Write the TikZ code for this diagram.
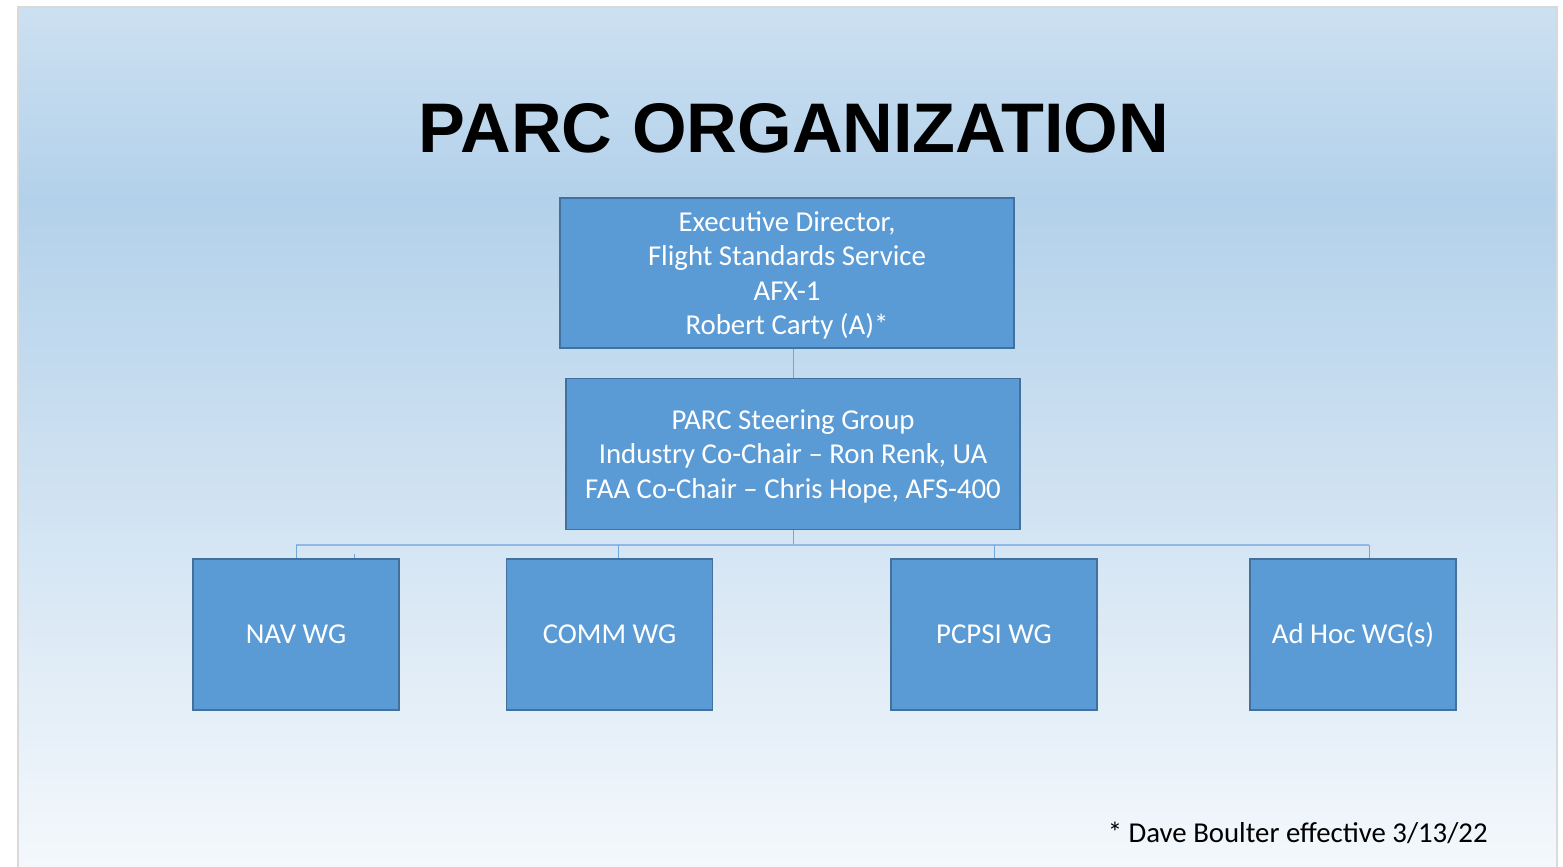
\documentclass[tikz,border=0pt]{standalone}
\usepackage{fontspec}
\setmainfont{Carlito}
\newfontfamily\titlefont{Liberation Sans}
\usepackage{xcolor}
\usetikzlibrary{positioning}

\definecolor{boxfill}{HTML}{5B9BD5}
\definecolor{boxline}{HTML}{41719C}
\definecolor{linkblue}{HTML}{6FA6DC}
\definecolor{busblue}{HTML}{8FB8E4}
\definecolor{slidetop}{HTML}{CCE0F1}
\definecolor{slidemid}{HTML}{B3D1EA}
\definecolor{slidebot}{HTML}{F4F8FC}
\definecolor{slideedge}{HTML}{D9D9D9}

\begin{document}
\begin{tikzpicture}[x=0.5pt, y=-0.5pt,
  orgbox/.style={draw=boxline, line width=0.75pt, fill=boxfill, text=white,
    align=center, inner sep=0pt, font=\fontsize{14.4}{17.25}\selectfont},
  topbox/.style={orgbox, text depth=0pt, minimum width=227pt, minimum height=75pt},
  wgbox/.style={orgbox, minimum width=103pt, minimum height=75.5pt},
  link/.style={draw=linkblue, line width=0.5pt},
  bus/.style={draw=busblue, line width=1pt}]
  % page and slide background
  \useasboundingbox (0,0) rectangle (1563,867);
  \fill[white] (0,0) rectangle (1563,867);
  \draw[slideedge, line width=1pt] (18,7) rectangle (1557,900);
  \fill[top color=slidetop, bottom color=slidemid] (19,8) rectangle (1556,200);
  \fill[top color=slidemid, bottom color=slidebot] (19,200) rectangle (1556,867);

  \node[font=\titlefont\bfseries\fontsize{35.1}{38}\selectfont, anchor=base] (title) at (794,152) {PARC ORGANIZATION};

  \node[topbox] (exec) at (787,273) {Executive Director,\\Flight Standards Service\\AFX-1\\Robert Carty (A)*};
  \node[topbox, minimum height=75.5pt] (steer) at (793,454) {PARC Steering Group\\Industry Co-Chair -- Ron Renk, UA\\FAA Co-Chair -- Chris Hope, AFS-400};

  \node[wgbox] (nav) at (296,634.5) {NAV WG};
  \node[wgbox] (comm) at (609.5,634.5) {COMM WG};
  \node[wgbox] (pcpsi) at (994,634.5) {PCPSI WG};
  \node[wgbox] (adhoc) at (1353,634.5) {Ad Hoc WG(s)};

  \node[anchor=base east, inner sep=0pt, font=\fontsize{14.4}{17}\selectfont] (note) at (1488,842) {* Dave Boulter effective 3/13/22};

  % connectors
  \coordinate (bus) at (793,545);
  \draw[link] (exec.south -| steer.north) -- (steer.north);
  \draw[link] (steer.south) -- (bus);
  \draw[bus] (nav.north |- bus) -- ([xshift=8pt]adhoc.north |- bus);
  \draw[link] (nav.north |- bus) -- (nav.north);
  \draw[link] ([xshift=29pt]nav.north) -- ++(0,-4);
  \draw[link] ([xshift=4.25pt]comm.north |- bus) -- ([xshift=4.25pt]comm.north);
  \draw[link] (pcpsi.north |- bus) -- (pcpsi.north);
  \draw[link] ([xshift=8pt]adhoc.north |- bus) -- ([xshift=8pt]adhoc.north);
\end{tikzpicture}
\end{document}
